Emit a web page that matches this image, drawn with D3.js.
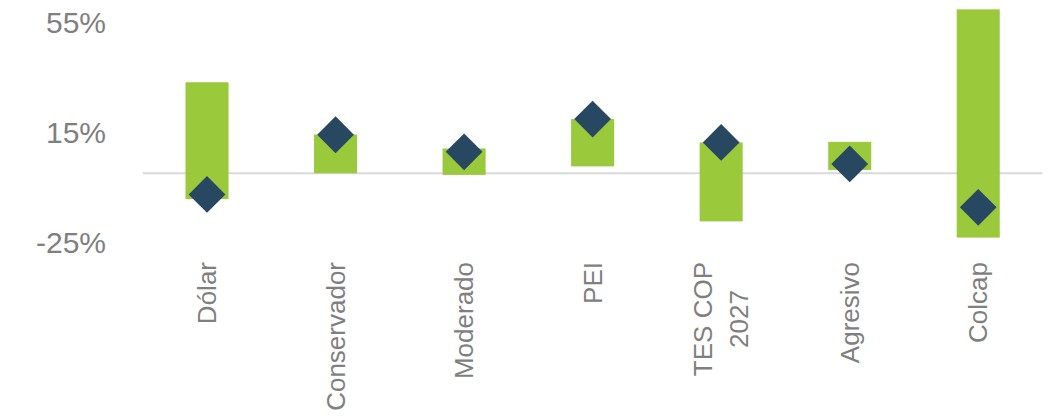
<!DOCTYPE html>
<meta charset="utf-8">
<style>
body { margin: 0; background: #fff; }
svg text { font-family: "Liberation Sans", Arial, sans-serif; fill: #7f7f7f; }
.ytick { font-size: 30px; text-anchor: end; }
.xlab { font-size: 26px; }
</style>
<body>
<svg id="chart" width="1050" height="417"></svg>
<script src="https://cdn.jsdelivr.net/npm/d3@7"></script>
<script>
// categories and ranges (percent)
var categories = ["Dólar", "Conservador", "Moderado", "PEI", "TES COP\n2027", "Agresivo", "Colcap"];
var rangeMax = [33.1, 14.1, 9.0, 19.7, 11.2, 11.4, 59.6];
var rangeMin = [-9.4, 0.0, -0.6, 2.5, -17.5, 1.2, -23.4];
var current = [-7.7, 14.0, 7.8, 19.7, 11.2, 3.4, -12.4];
var yTicks = [55, 15, -25];

var svg = d3.select("#chart");

var x = d3.scaleBand().domain(categories).range([142.75, 1042.5]).padding(0);
var y = d3.scaleLinear().domain([-25, 55]).range([242, 22]);
var barW = x.bandwidth() * 0.335;

// y labels
svg.selectAll(".ytick").data(yTicks).enter().append("text")
  .attr("class", "ytick")
  .attr("x", 106)
  .attr("y", function(d) { return y(d); })
  .attr("dy", "0.36em")
  .text(function(d) { return d + "%"; });

// zero line
svg.append("line")
  .attr("x1", x.range()[0]).attr("x2", x.range()[1])
  .attr("y1", y(0)).attr("y2", y(0))
  .attr("stroke", "#d9d9d9").attr("stroke-width", 2);

// range bars
svg.selectAll(".bar").data(categories).enter().append("rect")
  .attr("class", "bar")
  .attr("x", function(d) { return x(d) + x.bandwidth() / 2 - barW / 2; })
  .attr("width", barW)
  .attr("y", function(d, i) { return y(rangeMax[i]); })
  .attr("height", function(d, i) { return y(rangeMin[i]) - y(rangeMax[i]); })
  .attr("fill", "#9aca3c");

// diamonds
var sq = d3.symbol().type(d3.symbolSquare).size(26 * 26);
svg.selectAll(".pt").data(categories).enter().append("path")
  .attr("class", "pt")
  .attr("d", sq)
  .attr("transform", function(d, i) {
    return "translate(" + (x(d) + x.bandwidth() / 2) + "," + y(current[i]) + ") rotate(45)";
  })
  .attr("fill", "#284760");

// rotated category labels
var topY = 262;
categories.forEach(function(c) {
  var lines = c.split("\n");
  var cx = x(c) + x.bandwidth() / 2;
  var g = svg.append("g").attr("class", "xlab");
  var texts = lines.map(function(t, k) {
    return g.append("text")
      .attr("dominant-baseline", "central")
      .attr("text-anchor", "middle")
      .text(t);
  });
  var maxLen = d3.max(texts, function(t) { return t.node().getComputedTextLength(); });
  var lh = 36;
  texts.forEach(function(t, k) {
    var off = (k - (lines.length - 1) / 2) * lh;
    t.attr("transform", "translate(" + (cx + off) + "," + (topY + maxLen / 2) + ") rotate(-90)");
  });
});
</script>
</body>
